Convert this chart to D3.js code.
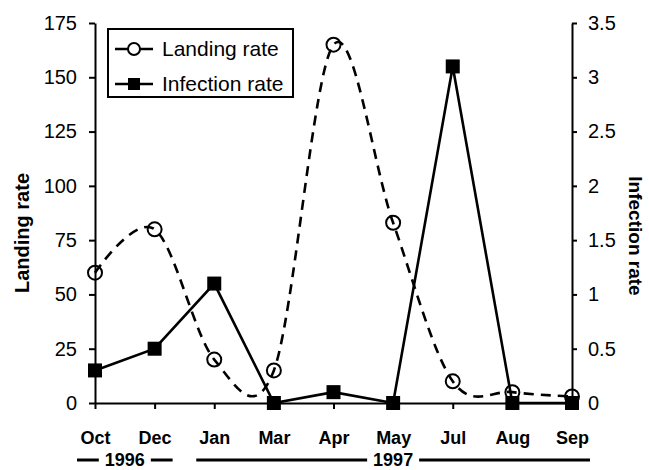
<!DOCTYPE html>
<html>
<head>
<meta charset="utf-8">
<script src="https://cdn.jsdelivr.net/npm/d3@7"></script>
<style>
  body { margin: 0; background: #fff; }
  svg { font-family: "Liberation Sans", Arial, sans-serif; }
</style>
</head>
<body>
<svg id="chart" width="649" height="470"></svg>
<script>
const months = ['Oct', 'Dec', 'Jan', 'Mar', 'Apr', 'May', 'Jul', 'Aug', 'Sep'];
const landingRate = [60, 80, 20, 15, 165, 83, 10, 5, 3];
const infectionRate = [0.3, 0.5, 1.1, 0, 0.1, 0, 3.1, 0, 0];
const leftTicks = [0, 25, 50, 75, 100, 125, 150, 175];
const rightTicks = [0, 0.5, 1, 1.5, 2, 2.5, 3, 3.5];
const years = [
  { label: '1996', from: 'Oct', to: 'Dec' },
  { label: '1997', from: 'Jan', to: 'Sep' }
];

const svg = d3.select('#chart');
const margin = { top: 23, right: 77, bottom: 67, left: 95 };
const width = 649 - margin.left - margin.right;
const height = 470 - margin.top - margin.bottom;

const g = svg.append('g').attr('transform', `translate(${margin.left},${margin.top})`);

const x = d3.scalePoint().domain(months).range([0, width]);
const yL = d3.scaleLinear().domain([0, 175]).range([height, 0]);
const yR = d3.scaleLinear().domain([0, 3.5]).range([height, 0]);

// axes
const leftAxis = g.append('g')
  .call(d3.axisLeft(yL).tickValues(leftTicks).tickSize(6).tickSizeOuter(0).tickPadding(12));
const rightAxis = g.append('g')
  .attr('transform', `translate(${width},0)`)
  .call(d3.axisRight(yR).tickValues(rightTicks).tickFormat(d3.format('')).tickSize(5).tickSizeOuter(0).tickPadding(11));
const bottomAxis = g.append('g')
  .attr('transform', `translate(0,${height})`)
  .call(d3.axisBottom(x).tickSize(6).tickSizeOuter(0).tickPadding(22));

[leftAxis, rightAxis, bottomAxis].forEach(a => {
  a.selectAll('path, line').attr('stroke', '#000').attr('stroke-width', 2);
  a.selectAll('text').attr('fill', '#000').style('font-size', '20px');
});
bottomAxis.selectAll('text').style('font-weight', 'bold').style('font-size', '18px');

// axis titles
g.append('text')
  .attr('transform', `translate(${-66},${yL(87.5) + 20}) rotate(-90)`)
  .attr('text-anchor', 'middle')
  .style('font-weight', 'bold').style('font-size', '20px')
  .text('Landing rate');
g.append('text')
  .attr('transform', `translate(${width + 57},${yR(1.75) + 23}) rotate(90)`)
  .attr('text-anchor', 'middle')
  .style('font-weight', 'bold').style('font-size', '19px')
  .text('Infection rate');

// year labels under the months
const yearRow = g.append('g').attr('transform', `translate(0,${height + 57})`);
years.forEach(yr => {
  const x0 = x(yr.from) - 18, x1 = x(yr.to) + 18;
  const cx = (x0 + x1) / 2;
  const halfText = 23;
  yearRow.append('line').attr('x1', x0).attr('x2', cx - halfText - 3)
    .attr('y1', 0).attr('y2', 0).attr('stroke', '#000').attr('stroke-width', 3);
  yearRow.append('line').attr('x1', cx + halfText + 3).attr('x2', x1)
    .attr('y1', 0).attr('y2', 0).attr('stroke', '#000').attr('stroke-width', 3);
  yearRow.append('text').attr('x', cx).attr('y', 6)
    .attr('text-anchor', 'middle')
    .style('font-weight', 'bold').style('font-size', '18px')
    .text(yr.label);
});

// landing rate: smoothed dashed line with open circles
const landingLine = d3.line()
  .x((d, i) => x(months[i]))
  .y(d => yL(d))
  .curve(d3.curveCardinal.tension(0));
g.append('path')
  .datum(landingRate)
  .attr('d', landingLine)
  .attr('fill', 'none').attr('stroke', '#000')
  .attr('stroke-width', 2.6).attr('stroke-dasharray', '10,7');
g.selectAll('.landing')
  .data(landingRate)
  .enter().append('circle')
  .attr('class', 'landing')
  .attr('cx', (d, i) => x(months[i]))
  .attr('cy', d => yL(d))
  .attr('r', 7)
  .attr('fill', 'none').attr('stroke', '#000').attr('stroke-width', 2);

// infection rate: solid line with filled squares
const infectionLine = d3.line()
  .x((d, i) => x(months[i]))
  .y(d => yR(d));
g.append('path')
  .datum(infectionRate)
  .attr('d', infectionLine)
  .attr('fill', 'none').attr('stroke', '#000').attr('stroke-width', 2.6);
g.selectAll('.infection')
  .data(infectionRate)
  .enter().append('rect')
  .attr('class', 'infection')
  .attr('x', (d, i) => x(months[i]) - 7)
  .attr('y', d => yR(d) - 7)
  .attr('width', 14).attr('height', 14)
  .attr('fill', '#000');

// legend
const legend = svg.append('g').attr('transform', 'translate(108,29)');
legend.append('rect')
  .attr('width', 185).attr('height', 68)
  .attr('fill', '#fff').attr('stroke', '#000').attr('stroke-width', 2);
const items = [
  { label: 'Landing rate', type: 'circle' },
  { label: 'Infection rate', type: 'square' }
];
items.forEach((it, i) => {
  const row = legend.append('g').attr('transform', `translate(0,${20 + i * 35})`);
  row.append('line').attr('x1', 7).attr('x2', 45).attr('y1', 0).attr('y2', 0)
    .attr('stroke', '#000').attr('stroke-width', 2.6);
  if (it.type === 'circle') {
    row.append('circle').attr('cx', 26).attr('cy', 0).attr('r', 6)
      .attr('fill', '#fff').attr('stroke', '#000').attr('stroke-width', 2);
  } else {
    row.append('rect').attr('x', 20).attr('y', -6).attr('width', 12).attr('height', 12)
      .attr('fill', '#000');
  }
  row.append('text').attr('x', 54).attr('y', 7)
    .style('font-size', '21px').text(it.label);
});
</script>
</body>
</html>
